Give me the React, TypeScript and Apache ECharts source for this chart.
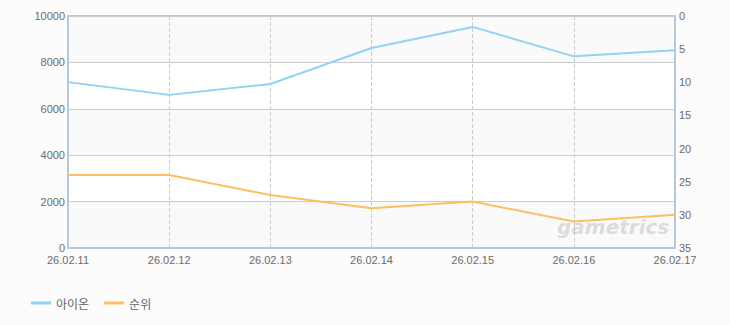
import React, { useEffect, useRef } from "react";
import * as echarts from "echarts";

const categories = ["26.02.11", "26.02.12", "26.02.13", "26.02.14", "26.02.15", "26.02.16", "26.02.17"];
const aionValues = [7150, 6600, 7070, 8620, 9530, 8260, 8520];
const rankValues = [24, 24, 27, 29, 28, 31, 30];
const seriesNames = ["아이온", "순위"];

export default function App() {
  const ref = useRef<HTMLDivElement>(null);
  useEffect(() => {
    if (!ref.current) return;
    const chart = echarts.init(ref.current, undefined, { renderer: "svg" });
    const labelStyle = { color: "#6b6b6b", fontSize: 11, fontFamily: "Liberation Sans, Arial, sans-serif" };
    chart.setOption({
      animation: false,
      backgroundColor: "#fcfcfc",
      grid: {
        left: 68,
        top: 16,
        width: 607,
        height: 232,
        show: true,
        borderColor: "#b6c8da",
        borderWidth: 2,
        backgroundColor: "transparent",
      },
      legend: {
        left: 26,
        top: 292,
        itemWidth: 20,
        itemHeight: 3,
        itemGap: 15,
        icon: "rect",
        textStyle: { color: "#666", fontSize: 12, fontFamily: "Noto Sans CJK KR, sans-serif" },
        data: seriesNames,
      },
      xAxis: {
        type: "category",
        data: categories,
        boundaryGap: false,
        axisLine: { show: true, lineStyle: { color: "#b6c8da", width: 2 } },
        axisTick: { show: false },
        axisLabel: { ...labelStyle, margin: 6 },
        splitLine: { show: true, lineStyle: { color: "#cccccc", type: "dashed", width: 1 } },
      },
      yAxis: [
        {
          type: "value",
          min: 0,
          max: 10000,
          interval: 2000,
          axisLine: { show: true, lineStyle: { color: "#b6c8da", width: 2 } },
          axisTick: { show: false },
          axisLabel: { ...labelStyle, margin: 3, formatter: (v: number) => String(v) },
          splitLine: { show: true, lineStyle: { color: "#cccccc", width: 1 } },
          splitArea: { show: true, areaStyle: { color: ["#fafafa", "#ffffff"] } },
        },
        {
          type: "value",
          min: 0,
          max: 35,
          interval: 5,
          inverse: true,
          position: "right",
          axisLine: { show: true, lineStyle: { color: "#b6c8da", width: 2 } },
          axisTick: { show: false },
          axisLabel: { ...labelStyle, margin: 4 },
          splitLine: { show: false },
        },
      ],
      graphic: [
        {
          type: "text",
          left: 557,
          top: 217,
          z: 1,
          style: {
            text: "gametrics",
            fill: "rgba(170,170,170,0.4)",
            font: "italic bold 20px DejaVu Sans, sans-serif",
          },
        },
      ],
      series: [
        {
          name: seriesNames[0],
          type: "line",
          data: aionValues,
          yAxisIndex: 0,
          showSymbol: false,
          symbol: "none",
          lineStyle: { color: "#92d2f2", width: 2 },
          itemStyle: { color: "#92d2f2" },
        },
        {
          name: seriesNames[1],
          type: "line",
          data: rankValues,
          yAxisIndex: 1,
          showSymbol: false,
          symbol: "none",
          lineStyle: { color: "#ffbf5e", width: 2 },
          itemStyle: { color: "#ffbf5e" },
        },
      ],
    });
    return () => chart.dispose();
  }, []);
  return <div ref={ref} style={{ width: 730, height: 325, position: "absolute", left: 0, top: 0 }} />;
}
